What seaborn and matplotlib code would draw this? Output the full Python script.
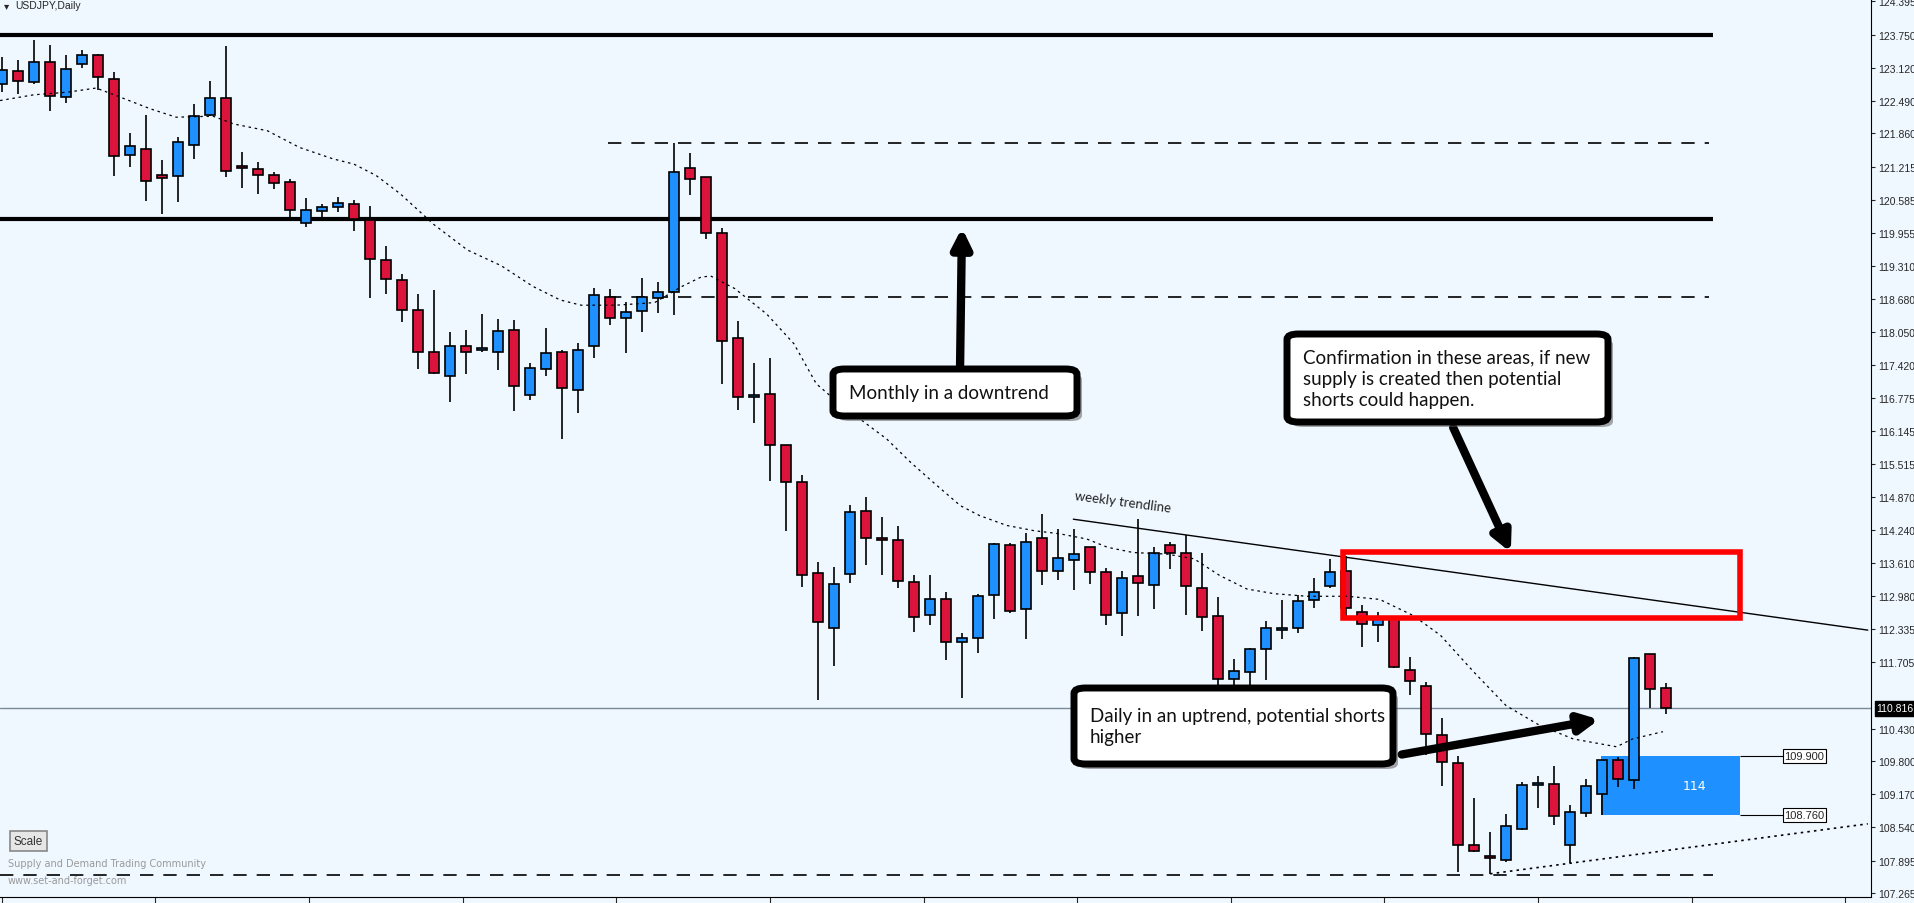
import numpy as np
import pandas as pd
import matplotlib
matplotlib.use("Agg")
import matplotlib.pyplot as plt
import seaborn as sns
from matplotlib.patches import FancyBboxPatch, FancyArrowPatch, Rectangle

# ---------------- data (USDJPY daily) ----------------
opens = [122.80,123.05,122.84,123.23,122.55,123.19,123.36,122.90,121.44,121.55,
         121.06,121.04,121.64,122.21,122.53,121.23,121.17,121.06,120.92,120.13,
         120.37,120.44,120.50,120.20,119.42,119.04,118.46,117.67,117.20,117.77,
         117.70,117.66,118.08,116.84,117.34,117.66,116.93,117.77,118.71,118.31,
         118.44,118.70,118.82,121.19,121.02,119.95,117.93,116.80,116.86,115.87,
         115.16,113.42,112.37,113.39,114.60,114.08,114.06,113.24,112.62,112.91,
         112.09,112.16,112.99,113.95,112.72,114.08,113.45,113.66,113.91,113.43,
         112.64,113.35,113.18,113.95,113.80,113.12,112.59,111.38,111.51,111.95,
         112.32,112.37,112.90,113.16,113.45,112.66,112.41,112.53,111.56,111.25,
         110.31,109.76,108.20,107.99,107.91,108.50,109.34,109.36,108.19,108.80,
         109.17,109.82,109.44,111.86,111.20]
closes = [123.08,122.86,123.23,122.57,123.09,123.36,122.94,121.42,121.61,120.94,
          121.00,121.69,122.19,122.53,121.13,121.19,121.06,120.90,120.38,120.38,
          120.44,120.52,120.22,119.45,119.06,118.46,117.66,117.25,117.77,117.66,
          117.73,118.06,117.01,117.35,117.64,116.97,117.70,118.76,118.32,118.42,
          118.71,118.82,121.12,120.98,119.95,117.88,116.80,116.84,115.87,115.16,
          113.37,112.47,113.20,114.58,114.08,114.06,113.26,112.57,112.91,112.09,
          112.16,112.97,113.97,112.68,114.01,113.45,113.70,113.78,113.43,112.62,
          113.33,113.22,113.81,113.80,113.16,112.57,111.39,111.54,111.95,112.36,
          112.37,112.87,113.05,113.43,112.74,112.43,112.57,111.61,111.34,110.32,
          109.78,108.19,108.07,107.94,108.55,109.34,109.39,108.75,108.82,109.33,
          109.83,109.46,111.78,111.18,110.82]
highs = [123.32,123.27,123.65,123.56,123.37,123.46,123.39,123.04,121.87,122.21,
         121.35,121.79,122.43,122.87,123.54,121.50,121.31,121.11,120.98,120.62,
         120.50,120.64,120.58,120.47,119.70,119.16,118.77,118.85,118.05,118.09,
         118.39,118.30,118.28,117.45,118.12,117.70,117.84,118.89,118.87,118.63,
         119.08,119.01,121.68,121.49,121.02,120.05,118.26,117.45,117.55,115.87,
         115.29,113.63,113.53,114.72,114.88,114.49,114.32,113.38,113.38,113.05,
         112.27,113.01,113.99,113.99,114.19,114.55,114.26,114.26,113.91,113.51,
         113.45,114.45,113.91,114.01,114.15,113.81,112.95,111.77,111.97,112.50,
         112.89,112.99,113.32,113.69,113.75,112.80,112.66,112.60,111.80,111.33,
         110.63,109.90,109.09,108.44,108.78,109.40,109.52,109.72,108.97,109.47,
         109.83,109.88,111.80,111.86,111.30]
lows = [122.66,122.62,122.80,122.28,122.45,123.12,122.70,121.05,121.22,120.57,
        120.32,120.55,121.36,122.19,121.03,120.82,120.70,120.80,120.22,120.07,
        120.23,120.34,119.99,118.69,118.78,118.23,117.33,117.23,116.70,117.24,
        117.67,117.31,116.53,116.73,117.20,115.99,116.49,117.54,118.17,117.65,
        118.05,118.41,118.38,120.67,119.83,117.05,116.54,116.29,115.19,114.22,
        113.14,110.97,111.64,113.23,113.58,113.37,113.13,112.29,112.41,111.75,
        111.02,111.89,112.54,112.64,112.14,113.19,113.29,113.10,113.21,112.41,
        112.21,112.60,112.73,113.50,112.62,112.31,110.66,110.82,111.22,111.37,
        112.14,112.27,112.74,113.12,112.60,112.00,112.10,111.59,111.08,109.93,
        109.33,107.67,108.05,107.63,107.86,108.49,108.90,108.58,107.84,108.73,
        108.77,109.31,109.26,110.83,110.71]

ma_idx = [-0.1,2.0,4.1,5.9,7.2,9.3,10.9,13.2,14.5,16.6,18.6,20.7,22.0,23.4,24.9,
          27.0,29.1,31.2,33.2,34.9,36.2,38.4,40.8,42.5,43.7,44.3,45.8,47.8,49.5,
          50.9,52.0,53.6,55.3,56.8,58.2,59.9,61.1,62.8,64.5,66.1,67.8,69.1,70.7,
          72.8,74.5,76.1,77.8,79.5,81.6,84.1,86.1,88.2,89.9,92.0,94.0,96.1,98.2,
          100.9,101.9,103.8]
ma_val = [122.49,122.60,122.65,122.73,122.58,122.33,122.17,122.19,122.04,121.91,
          121.59,121.37,121.27,121.05,120.70,120.11,119.62,119.32,118.92,118.66,
          118.56,118.56,118.61,118.92,119.10,119.12,118.88,118.39,117.82,117.05,
          116.76,116.38,115.99,115.54,115.16,114.71,114.52,114.33,114.23,114.17,
          114.07,113.91,113.81,113.78,113.69,113.37,113.11,113.02,112.97,112.97,
          112.91,112.60,112.22,111.51,110.87,110.49,110.23,110.08,110.23,110.37]

price_ticks = [124.395,123.750,123.120,122.490,121.860,121.215,120.585,119.955,
               119.310,118.680,118.050,117.420,116.775,116.145,115.515,114.870,
               114.240,113.610,112.980,112.335,111.705,110.430,109.800,109.170,
               108.540,107.895,107.265]
solid_levels = [123.75, 120.22]
dashed_levels = [121.67, 118.71]
bottom_dashed = 107.62
last_price = 110.816
trend_idx = [66.96, 116.6]
trend_val = [114.45, 112.32]
lower_idx = [93.0, 116.6]
lower_val = [107.64, 108.60]
zone_red = [83.8, 108.6, 112.55, 113.82]   # x0, x1, y0, y1
zone_blue = [99.9, 108.6, 108.77, 109.90]
zone_labels = ["109.900", "108.760"]

# ---------------- figure ----------------
W, H = 1914, 904
BG = "#EFF7FF"
sns.set_style("white")
fig = plt.figure(figsize=(W/100, H/100), dpi=100, facecolor=BG)
ax = fig.add_axes([0, 6/H, 1871/W, 1 - 6/H])
ax.set_facecolor(BG)
xmin, xmax = -0.106, 116.8
ymin, ymax = 107.195, 124.44
ax.set_xlim(xmin, xmax)
ax.set_ylim(ymin, ymax)

df = pd.DataFrame({"o": opens, "c": closes, "h": highs, "l": lows})
df["i"] = np.arange(len(df))
up = df["c"] >= df["o"]
ax.vlines(df["i"], df["l"], df["h"], color="black", lw=1.2, zorder=3)
for m, col in [(up, "#1E90FF"), (~up, "#DC143C")]:
    d = df[m]
    bot = np.minimum(d["o"], d["c"])
    ht = np.maximum(np.abs(d["c"] - d["o"]), 0.03)
    ax.bar(d["i"], ht, bottom=bot, width=0.62, color=col, edgecolor="black",
           lw=1.2, zorder=4)

sns.lineplot(x=ma_idx, y=ma_val, ax=ax, color="black", lw=0.9,
             linestyle=(0, (2, 3)), zorder=5)

for lv in solid_levels:
    ax.hlines(lv, xmin, 106.9, color="black", lw=3, zorder=2)
for lv in dashed_levels:
    ax.hlines(lv, 37.9, 106.7, color="black", lw=1.2, linestyles=(0, (8, 6)), zorder=2)
ax.hlines(bottom_dashed, xmin, 106.9, color="black", lw=1.2, linestyles=(0, (8, 6)), zorder=2)
ax.axhline(last_price, color="#7A8A99", lw=1, zorder=1)
ax.plot(trend_idx, trend_val, color="black", lw=1, zorder=5)
ax.plot(lower_idx, lower_val, color="black", lw=1.2, linestyle=(0, (1.5, 2.5)), zorder=5)
ax.text(67.0, 114.55, "weekly trendline", rotation=-7.5, fontsize=9.5,
        family="Lato", color="#222222", ha="left", va="bottom")

ax.add_patch(Rectangle((zone_red[0], zone_red[2]), zone_red[1]-zone_red[0],
                       zone_red[3]-zone_red[2], fill=False, edgecolor="#FF0000",
                       lw=4, zorder=6))
ax.add_patch(Rectangle((zone_blue[0], zone_blue[2]), zone_blue[1]-zone_blue[0],
                       zone_blue[3]-zone_blue[2], color="#1E90FF", lw=0, zorder=2))
ax.text(105.8, (zone_blue[2]+zone_blue[3])/2, "114", color="white", fontsize=9,
        ha="center", va="center", zorder=6)
for lv, lab in zip([zone_blue[3], zone_blue[2]], zone_labels):
    ax.hlines(lv, 108.6, 111.3, color="black", lw=0.8, zorder=6)
    ax.text(111.4, lv, lab, fontsize=8, family="Liberation Sans", va="center",
            ha="left", zorder=7,
            bbox=dict(boxstyle="square,pad=0.15", fc="white", ec="black", lw=0.8))

# right price axis
ax.yaxis.tick_right()
ax.set_yticks(price_ticks)
ax.set_yticklabels([f"{t:.3f}" for t in price_ticks], fontsize=7.5,
                   family="Liberation Sans")
ax.tick_params(axis="y", direction="out", length=3, pad=2, right=True, left=False)
ax.set_xticks(np.arange(0, 117, 9.6))
ax.set_xticklabels([])
ax.tick_params(axis="x", direction="out", length=4, bottom=True)
for s in ["top", "left"]:
    ax.spines[s].set_visible(False)
ax.spines["right"].set_color("black")
ax.spines["bottom"].set_color("black")
ax.text(1.003, (last_price-ymin)/(ymax-ymin), f"{last_price:.3f}",
        transform=ax.transAxes, fontsize=7.5, color="white", va="center",
        ha="left", family="Liberation Sans",
        bbox=dict(boxstyle="square,pad=0.2", fc="black", ec="black"))

# ---------------- annotations (figure pixel coords) ----------------
def fx(x): return x / W
def fy(y): return 1 - y / H

def callout(x0, y0, x1, y1, text):
    sh = FancyBboxPatch((fx(x0+5), fy(y1+5)), fx(x1-x0), (y1-y0)/H,
                        boxstyle="round,pad=0,rounding_size=0.006",
                        transform=fig.transFigure, fc="#555555", ec="none",
                        alpha=0.5, zorder=9)
    bx = FancyBboxPatch((fx(x0), fy(y1)), fx(x1-x0), (y1-y0)/H,
                        boxstyle="round,pad=0,rounding_size=0.006",
                        transform=fig.transFigure, fc="white", ec="black",
                        lw=5, zorder=10)
    fig.add_artist(sh); fig.add_artist(bx)
    fig.text(fx(x0+16), fy((y0+y1)/2), text, fontsize=13.5, family="Lato",
             va="center", ha="left", color="#111111", zorder=11,
             linespacing=1.3)

def arrow(xa, ya, xb, yb):
    fig.add_artist(FancyArrowPatch((fx(xa), fy(ya)), (fx(xb), fy(yb)),
                                   transform=fig.transFigure,
                                   arrowstyle="-|>", mutation_scale=28,
                                   lw=6, color="black", zorder=8))

arrow(960, 372, 962, 226)
callout(833, 370, 1077, 417, "Monthly in a downtrend")
arrow(1452, 426, 1512, 556)
callout(1287, 335, 1608, 423,
        "Confirmation in these areas, if new\nsupply is created then potential\nshorts could happen.")
arrow(1399, 756, 1602, 720)
callout(1074, 689, 1393, 765, "Daily in an uptrend, potential shorts\nhigher")

# header and footer bits
fig.text(fx(4), fy(6), "\u25BE", fontsize=7.5, family="DejaVu Sans",
         va="center", ha="left")
fig.text(fx(15), fy(6), "USDJPY,Daily", fontsize=7.5, family="Liberation Sans",
         va="center", ha="left")
fig.text(fx(14), fy(842), "Scale", fontsize=8.5, family="Liberation Sans",
         va="center", ha="left", color="#333333",
         bbox=dict(boxstyle="square,pad=0.35", fc="#E6E6E6", ec="#888888", lw=1.2))
fig.text(fx(8), fy(864), "Supply and Demand Trading Community", fontsize=7,
         color="#9A9A9A", va="center", ha="left")
fig.text(fx(8), fy(881), "www.set-and-forget.com", fontsize=7,
         color="#9A9A9A", va="center", ha="left")

fig.savefig("out.png", dpi=100, facecolor=BG)
